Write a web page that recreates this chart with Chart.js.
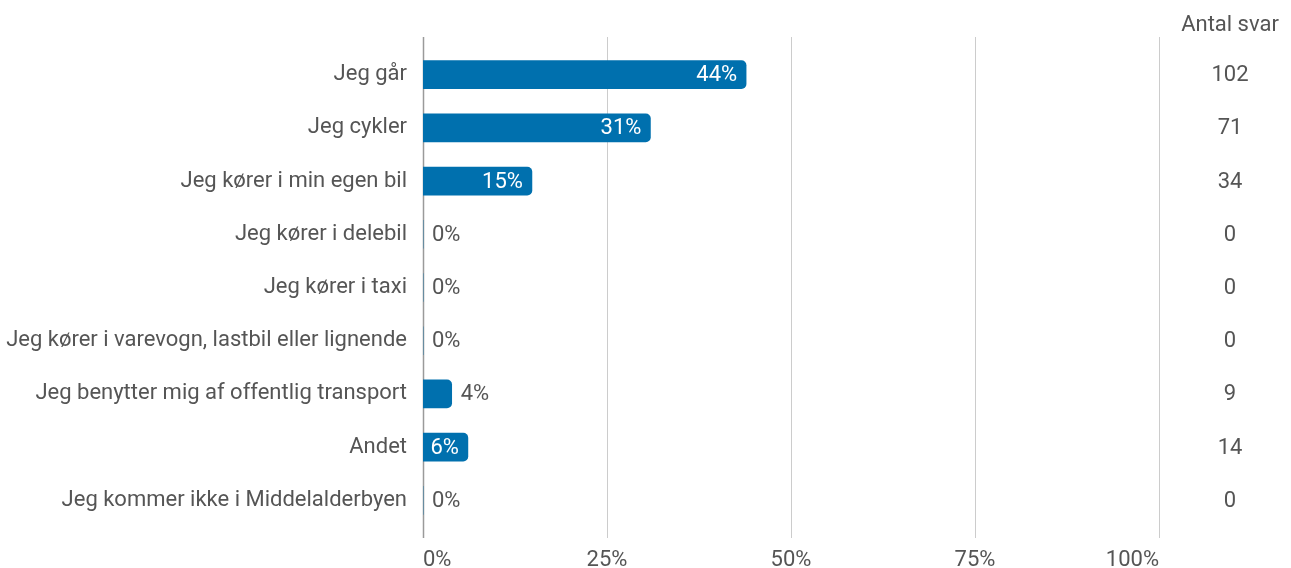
<!DOCTYPE html>
<html>
<head>
<meta charset="utf-8">
<script src="https://cdn.jsdelivr.net/npm/chart.js@4/dist/chart.umd.min.js"></script>
<style>
  html, body { margin: 0; padding: 0; background: #fff; }
  #wrap { width: 1291px; height: 568px; position: relative; }
</style>
</head>
<body>
<div id="wrap"><canvas id="chart"></canvas></div>
<script>
const categories = [
    'Jeg går',
    'Jeg cykler',
    'Jeg kører i min egen bil',
    'Jeg kører i delebil',
    'Jeg kører i taxi',
    'Jeg kører i varevogn, lastbil eller lignende',
    'Jeg benytter mig af offentlig transport',
    'Andet',
    'Jeg kommer ikke i Middelalderbyen'
];
const percentValues = [43.9, 30.9, 14.8, 0, 0, 0, 3.9, 6.1, 0];
const answerCounts = [102, 71, 34, 0, 0, 0, 9, 14, 0];
const countHeader = 'Antal svar';
const xTicks = [0, 25, 50, 75, 100];

const textColor = '#555555';
const barColor = '#0070ae';
const fontFamily = 'Roboto, "Noto Sans", sans-serif';
const fontSize = 22;

// Grid lines drawn a bit past the chart area, like the original
const gridPlugin = {
    id: 'gridLines',
    beforeDatasetsDraw(chart) {
        const c = chart.ctx;
        const area = chart.chartArea;
        const x = chart.scales.x;
        c.save();
        xTicks.forEach(t => {
            const px = Math.round(x.getPixelForValue(t)) + 0.5;
            c.strokeStyle = t === 0 ? '#9a9a9a' : '#cccccc';
            c.lineWidth = t === 0 ? 1.5 : 1;
            c.beginPath();
            c.moveTo(px, area.top - 11);
            c.lineTo(px, area.bottom + 11);
            c.stroke();
        });
        c.restore();
    }
};

// Percent labels on the bars and the count column on the right
const labelPlugin = {
    id: 'barLabels',
    afterDatasetsDraw(chart) {
        const c = chart.ctx;
        const x = chart.scales.x;
        const y = chart.scales.y;
        c.save();
        c.font = fontSize + 'px ' + fontFamily;
        c.textBaseline = 'middle';
        percentValues.forEach((v, i) => {
            const py = y.getPixelForValue(i);
            const x0 = x.getPixelForValue(0);
            const x1 = x.getPixelForValue(v);
            const txt = Math.round(v) + '%';
            const w = c.measureText(txt).width;
            if (x1 - x0 >= w + 10) {
                c.fillStyle = '#ffffff';
                c.textAlign = 'right';
                c.fillText(txt, x1 - 9, py + 1);
            } else {
                c.fillStyle = textColor;
                c.textAlign = 'left';
                c.fillText(txt, x1 + 9, py + 1);
            }
            c.fillStyle = textColor;
            c.textAlign = 'center';
            c.fillText(String(answerCounts[i]), 1230, py + 1);
        });
        c.textAlign = 'center';
        c.fillStyle = textColor;
        c.fillText(countHeader, 1230, 25);
        c.restore();
    }
};

new Chart(document.getElementById('chart'), {
    type: 'bar',
    data: {
        labels: categories,
        datasets: [{
            data: percentValues,
            backgroundColor: barColor,
            borderRadius: 5,
            borderSkipped: 'start',
            barThickness: 28
        }]
    },
    options: {
        indexAxis: 'y',
        responsive: true,
        maintainAspectRatio: false,
        animation: false,
        layout: {
            padding: { top: 48, right: 132, bottom: 0, left: 0 }
        },
        plugins: {
            legend: { display: false },
            tooltip: { enabled: false }
        },
        scales: {
            x: {
                min: 0,
                max: 100,
                afterBuildTicks: s => { s.ticks = xTicks.map(v => ({ value: v })); },
                afterFit: s => { s.height = 41; },
                grid: { display: false, drawTicks: false },
                border: { display: false },
                ticks: {
                    align: 'inner',
                    padding: 20,
                    color: textColor,
                    font: { family: fontFamily, size: fontSize },
                    callback: v => v + '%'
                }
            },
            y: {
                afterFit: s => { s.width = 423; },
                grid: { display: false, drawTicks: false },
                border: { display: false },
                ticks: {
                    padding: 16,
                    color: textColor,
                    font: { family: fontFamily, size: fontSize }
                }
            }
        }
    },
    plugins: [gridPlugin, labelPlugin]
});
</script>
</body>
</html>
